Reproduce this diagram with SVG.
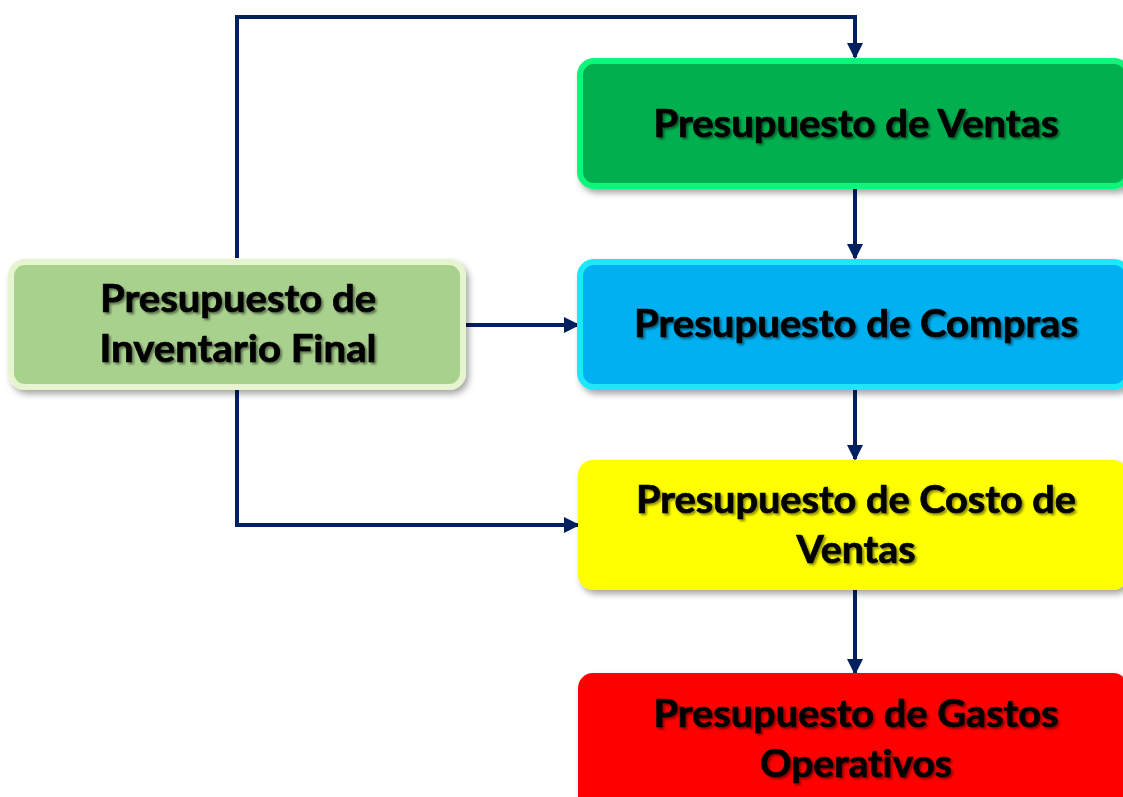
<svg xmlns="http://www.w3.org/2000/svg" width="1123" height="797" viewBox="0 0 1123 797">
<defs>
<filter id="sh" x="-10%" y="-10%" width="130%" height="140%">
<feDropShadow dx="3" dy="4" stdDeviation="3" flood-color="#000" flood-opacity="0.35"/>
</filter>
<filter id="tsh" x="-5%" y="-20%" width="110%" height="150%">
<feDropShadow dx="2" dy="2" stdDeviation="1.2" flood-color="#000" flood-opacity="0.45"/>
</filter>
<marker id="ahb" markerWidth="16" markerHeight="16" refX="14" refY="8" orient="auto" markerUnits="userSpaceOnUse" viewBox="0 0 16 16">
<path d="M0,0 L16,8 L0,16 z" fill="#002060"/>
</marker>
</defs>
<style>
.lbl{font-family:"Lato","Open Sans","Liberation Sans",sans-serif;font-weight:bold;font-size:38px;fill:#000;stroke:#000;stroke-width:0.7;text-anchor:middle;font-variant-ligatures:none;font-feature-settings:"liga" 0;filter:url(#tsh)}
.con{fill:none;stroke:#002060;stroke-width:4;marker-end:url(#ahb)}
</style>
<rect width="1123" height="797" fill="#fff"/>
<g id="connectors">
<path class="con" d="M237,258 V17 H855 V57"/>
<path class="con" d="M855,188 V258"/>
<path class="con" d="M466,325 H578"/>
<path class="con" d="M855,389 V459"/>
<path class="con" d="M237,390 V525 H578"/>
<path class="con" d="M855,590 V673"/>
</g>
<g id="ventas">
<rect x="580" y="61" width="548" height="125" rx="14" fill="#00b050" stroke="#0bf57a" stroke-width="6" filter="url(#sh)"/>
<text class="lbl" x="856" y="137" textLength="405" lengthAdjust="spacingAndGlyphs">Presupuesto de Ventas</text>
</g>
<g id="compras">
<rect x="580" y="262" width="548" height="125" rx="14" fill="#00b0f0" stroke="#1ee8f8" stroke-width="6" filter="url(#sh)"/>
<text class="lbl" x="856" y="337" textLength="444" lengthAdjust="spacingAndGlyphs">Presupuesto de Compras</text>
</g>
<g id="costo">
<rect x="578" y="460" width="550" height="130" rx="15" fill="#ffff00" filter="url(#sh)"/>
<text class="lbl" x="856" y="513" textLength="440" lengthAdjust="spacingAndGlyphs">Presupuesto de Costo de</text>
<text class="lbl" x="856" y="563" textLength="119" lengthAdjust="spacingAndGlyphs">Ventas</text>
</g>
<g id="gastos">
<rect x="578" y="673" width="550" height="140" rx="15" fill="#ff0000" filter="url(#sh)"/>
<text class="lbl" x="856" y="727" textLength="405" lengthAdjust="spacingAndGlyphs">Presupuesto de Gastos</text>
<text class="lbl" x="856" y="777" textLength="192" lengthAdjust="spacingAndGlyphs">Operativos</text>
</g>
<g id="inventario">
<rect x="11" y="262" width="452" height="125" rx="14" fill="#a9d18e" stroke="#e6f5d0" stroke-width="6" filter="url(#sh)"/>
<text class="lbl" x="238" y="312" textLength="276" lengthAdjust="spacingAndGlyphs">Presupuesto de</text>
<text class="lbl" x="238" y="362" textLength="277" lengthAdjust="spacingAndGlyphs">Inventario Final</text>
</g>
</svg>
